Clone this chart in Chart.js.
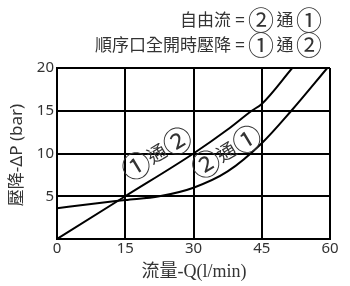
<!DOCTYPE html>
<html>
<head>
<meta charset="utf-8">
<script src="https://cdn.jsdelivr.net/npm/chart.js@4/dist/chart.umd.min.js"></script>
<style>
  html, body { margin: 0; padding: 0; background: #fff; }
  #chart { display: block; }
</style>
</head>
<body>
<canvas id="chart" width="350" height="286"></canvas>
<script>
// header text and axis titles
const headerLines = ['自由流 = ②通①', '順序口全開時壓降 = ①通②'];
const xTitle = '流量-Q(l/min)';
const yTitle = '壓降-ΔP (bar)';

// axis ranges / ticks
const xTicks = [0, 15, 30, 45, 60];
const yTicks = [5, 10, 15, 20];

// curve 1: ①通② (sequence port fully open)
const flow1 = [0, 15, 30, 37.5, 42.8, 45, 51.7];
const dp1 = [0, 5, 10, 12.8, 15, 15.8, 20];

// curve 2: ②通① (free flow)
const flow2 = [0, 7.5, 15, 22.5, 30, 37.5, 45, 51.5, 59.4];
const dp2 = [3.6, 4.1, 4.55, 5.0, 6.0, 7.9, 11.2, 15, 20];

// labels written along the curves, anchored in data units
const curveLabels = ['①通②', '②通①'];
const curveLabelFlow = [21.9, 37.2];
const curveLabelDp = [10.0, 10.2];

const textColor = '#333';
const cjk = '"Noto Sans CJK TC", "Noto Sans CJK SC", sans-serif';

const toPoints = (xs, ys) => xs.map((x, i) => ({ x: x, y: ys[i] }));

// circled digits come out small in Noto CJK, so they get a bigger size
function drawRun(ctx, text, cx, cy, size, pitch) {
  const chars = Array.from(text);
  chars.forEach((ch, k) => {
    const circled = /[\u2460-\u2473]/.test(ch);
    ctx.font = (circled ? Math.round(size * 1.5) : size) + 'px ' + cjk;
    ctx.fillText(ch, cx + (k - (chars.length - 1) / 2) * pitch, cy);
  });
}

// draws the header lines, axis titles and curve labels
const textPlugin = {
  id: 'textPlugin',
  afterDraw(chart) {
    const ctx = chart.ctx;
    const xs = chart.scales.x;
    const ys = chart.scales.y;
    ctx.save();
    ctx.fillStyle = textColor;
    ctx.textBaseline = 'middle';

    // header: prefix, '=', then the port run
    const headerY = [20, 45];
    headerLines.forEach((line, i) => {
      const parts = line.split(' = ');
      ctx.font = '17px ' + cjk;
      ctx.textAlign = 'right';
      ctx.fillText(parts[0], 231, headerY[i]);
      ctx.textAlign = 'center';
      ctx.fillText('=', 240, headerY[i]);
      drawRun(ctx, parts[1], 285, headerY[i], 17, 24);
    });

    // x title
    ctx.font = '18px "Liberation Serif", ' + cjk;
    ctx.textAlign = 'center';
    ctx.fillText(xTitle, 194, 272);

    // y title
    ctx.save();
    ctx.translate(17, 155);
    ctx.rotate(-Math.PI / 2);
    ctx.font = '17px "Noto Sans", ' + cjk;
    ctx.fillText(yTitle, 0, 0);
    ctx.restore();

    // curve labels
    curveLabels.forEach((label, i) => {
      const px = xs.getPixelForValue(curveLabelFlow[i]);
      const py = ys.getPixelForValue(curveLabelDp[i]);
      ctx.save();
      ctx.translate(px, py);
      ctx.rotate(-31 * Math.PI / 180);
      drawRun(ctx, label, 0, 0, 19, 24);
      ctx.restore();
    });

    ctx.restore();
  }
};

const lineStyle = {
  borderColor: '#000',
  backgroundColor: '#000',
  borderWidth: 2,
  pointRadius: 0,
  fill: false,
  cubicInterpolationMode: 'monotone'
};

new Chart(document.getElementById('chart'), {
  type: 'line',
  data: {
    datasets: [
      Object.assign({ label: curveLabels[0], data: toPoints(flow1, dp1) }, lineStyle),
      Object.assign({ label: curveLabels[1], data: toPoints(flow2, dp2) }, lineStyle)
    ]
  },
  options: {
    responsive: false,
    animation: false,
    devicePixelRatio: 1,
    layout: { padding: { top: 68, right: 20, left: 0, bottom: 0 } },
    plugins: {
      legend: { display: false },
      tooltip: { enabled: false }
    },
    scales: {
      x: {
        type: 'linear',
        min: xTicks[0],
        max: xTicks[xTicks.length - 1],
        afterBuildTicks: (s) => { s.ticks = xTicks.map(v => ({ value: v })); },
        afterFit: (s) => { s.height = 47; },
        ticks: {
          color: textColor,
          padding: 1,
          maxRotation: 0,
          font: { size: 15, family: '"Noto Sans"' }
        },
        grid: { color: '#000', lineWidth: 2, drawTicks: false },
        border: { color: '#000', width: 2 }
      },
      y: {
        min: 0,
        max: yTicks[yTicks.length - 1],
        afterBuildTicks: (s) => { s.ticks = [0].concat(yTicks).map(v => ({ value: v })); },
        afterFit: (s) => { s.width = 57; },
        ticks: {
          color: textColor,
          padding: 3,
          font: { size: 15, family: '"Noto Sans"' },
          callback: (v) => (v === 0 ? '' : v)
        },
        grid: { color: '#000', lineWidth: 2, drawTicks: false },
        border: { color: '#000', width: 2 }
      }
    }
  },
  plugins: [textPlugin]
});
</script>
</body>
</html>
